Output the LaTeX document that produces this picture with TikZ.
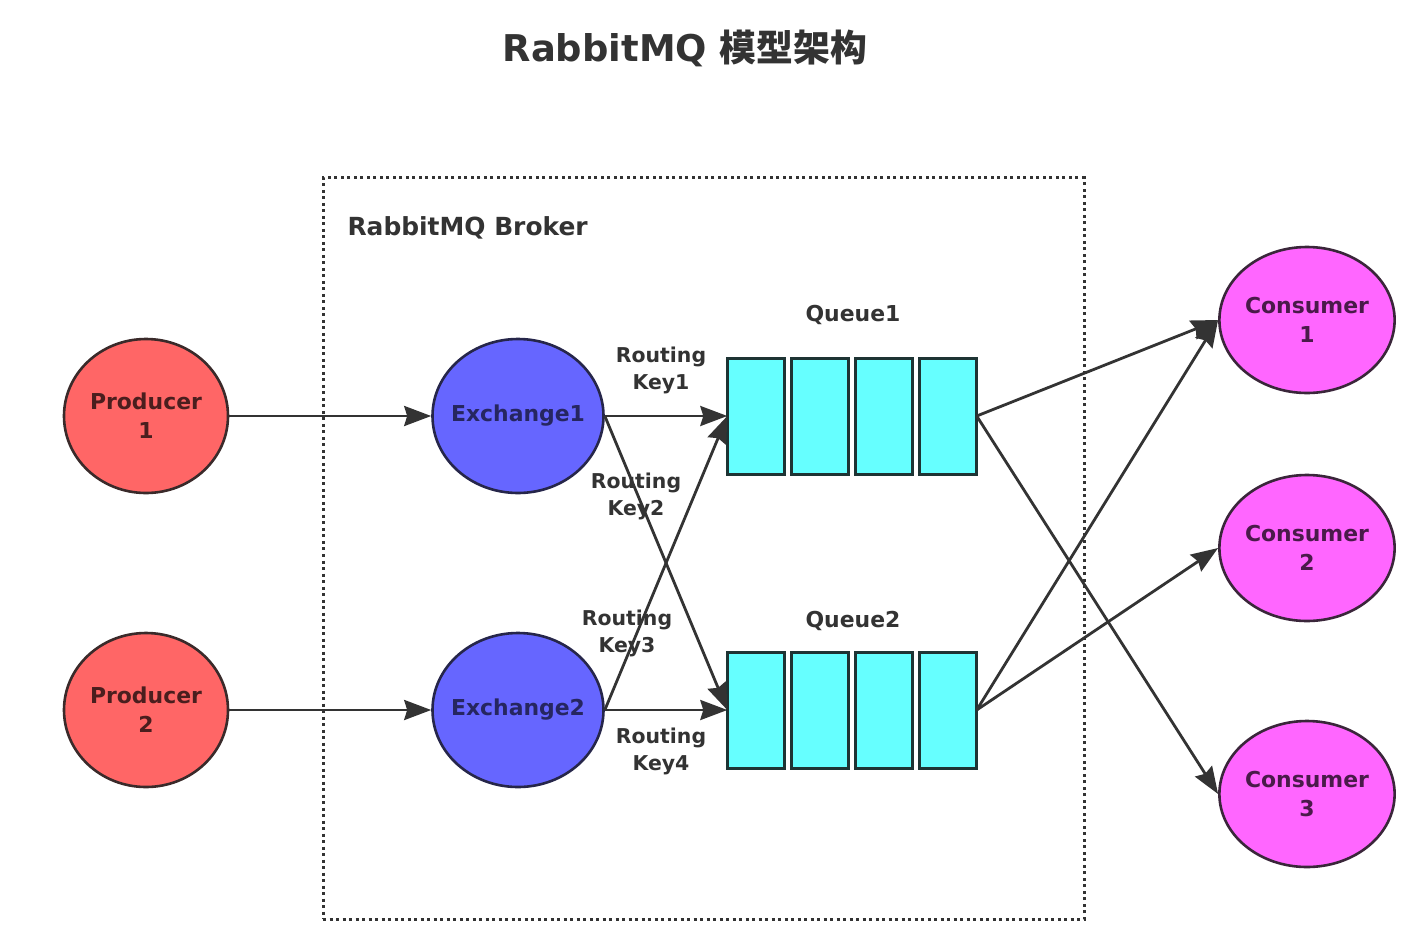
\documentclass[tikz,border=0pt]{standalone}
\usepackage{fontspec}
\setmainfont{DejaVu Sans}
\newfontfamily\cjk{Noto Sans CJK SC}
\usetikzlibrary{shapes.geometric,arrows.meta}
\definecolor{ink}{HTML}{333333}
\definecolor{prodfill}{HTML}{FF6666}
\definecolor{prodline}{HTML}{3A2A2A}
\definecolor{prodtext}{HTML}{4A1E1E}
\definecolor{exfill}{HTML}{6666FF}
\definecolor{exline}{HTML}{26264A}
\definecolor{extext}{HTML}{262660}
\definecolor{qfill}{HTML}{66FFFF}
\definecolor{qline}{HTML}{1E3434}
\definecolor{cfill}{HTML}{FF66FF}
\definecolor{cline}{HTML}{3A263A}
\definecolor{ctext}{HTML}{4A1A4A}
\tikzset{
  nodefont/.style={font=\bfseries\fontsize{22}{29}\selectfont},
  blob/.style={ellipse, line width=2.6bp, inner sep=0pt, align=center, nodefont},
  prod/.style={blob, draw=prodline, fill=prodfill, text=prodtext, minimum width=164bp, minimum height=154bp},
  exch/.style={blob, draw=exline, fill=exfill, text=extext, inner xsep=-8bp, minimum width=171bp, minimum height=154bp},
  cons/.style={blob, draw=cline, fill=cfill, text=ctext, minimum width=173bp, minimum height=146bp},
  cell/.style={rectangle, draw=qline, fill=qfill, line width=3bp, minimum width=57bp, minimum height=116bp, inner sep=0pt},
  qbox/.style={rectangle, minimum width=249bp, minimum height=116bp, inner sep=0pt},
  qlabel/.style={text=ink, nodefont},
  keylabel/.style={text=ink, align=center, font=\bfseries\fontsize{20.5}{27}\selectfont},
  arr/.style={draw=ink, line width=2.8bp, -{Stealth[length=27bp,width=20bp,inset=3bp]}},
  broker/.style={rectangle, draw=ink, line width=3bp, dash pattern=on 3bp off 3.5bp, minimum width=761bp, minimum height=741bp, inner sep=0pt}
}
\begin{document}
\begin{tikzpicture}[x=1bp,y=-1bp]
\useasboundingbox[fill=white] (0,0) rectangle (1419,928);
% title
\node[text=ink, font=\bfseries\fontsize{37}{42}\selectfont] (title) at (685,48) {RabbitMQ {\cjk\bfseries 模型架构}};
% broker
\node[broker] (broker) at (703.5,548.5) {};
\node[anchor=west, text=ink, font=\bfseries\fontsize{25}{30}\selectfont] (blabel) at (344,228) {RabbitMQ Broker};
% producers
\node[prod] (p1) at (146,416) {Producer\\1};
\node[prod] (p2) at (146,710) {Producer\\2};
% exchanges
\node[exch] (e1) at (518,416) {Exchange1};
\node[exch] (e2) at (518,710) {Exchange2};
% queues
\node[qbox] (q1) at (852,416) {};
\node[qbox] (q2) at (852,710) {};
\foreach \q/\y in {q1/416, q2/710}{
  \node[cell] (\q a) at (756,\y) {};
  \node[cell] (\q b) at (820,\y) {};
  \node[cell] (\q c) at (884,\y) {};
  \node[cell] (\q d) at (948,\y) {};
}
\node[qlabel] (q1l) at (853,315) {Queue1};
\node[qlabel] (q2l) at (853,621) {Queue2};
% consumers
\node[cons] (c1) at (1307,320) {Consumer\\1};
\node[cons] (c2) at (1307,548) {Consumer\\2};
\node[cons] (c3) at (1307,794) {Consumer\\3};
% routing key labels
\node[keylabel] (k1) at (661,370) {Routing\\Key1};
\node[keylabel] (k2) at (636,496) {Routing\\Key2};
\node[keylabel] (k3) at (627,633) {Routing\\Key3};
\node[keylabel] (k4) at (661,751) {Routing\\Key4};
% connectors
\draw[arr] (p1) -- (e1);
\draw[arr] (p2) -- (e2);
\draw[arr] (e1.east) -- (q1.west);
\draw[arr] (e1.east) -- (q2.west);
\draw[arr] (e2.east) -- (q1.west);
\draw[arr] (e2.east) -- (q2.west);
\draw[arr] (q1.east) -- (c1.west);
\draw[arr] (q1.east) -- (c3.west);
\draw[arr] (q2.east) -- (c1.west);
\draw[arr] (q2.east) -- (c2.west);
\end{tikzpicture}
\end{document}
